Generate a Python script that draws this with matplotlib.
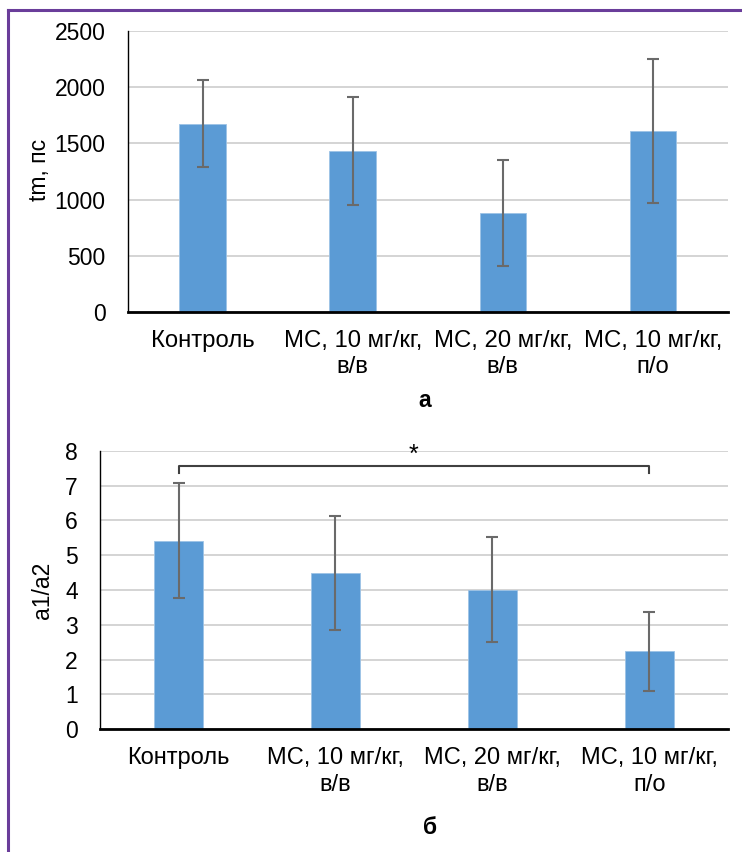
import matplotlib
matplotlib.use("Agg")
import matplotlib.pyplot as plt
from matplotlib.lines import Line2D

# данные
groups = ["Контроль", "МС, 10 мг/кг,\nв/в", "МС, 20 мг/кг,\nв/в", "МС, 10 мг/кг,\nп/о"]
tm_mean = [1675, 1432, 878, 1610]
tm_err = [388, 482, 472, 644]
ratio_mean = [5.42, 4.49, 4.01, 2.24]
ratio_err = [1.66, 1.63, 1.51, 1.13]
sig_pair = (0, 3)
sig_level = 7.57

bar_color = "#5B9BD5"
err_color = "#6A6A6A"
grid_color = "#D4D4D4"
fam = ["Liberation Sans", "DejaVu Sans"]
fs = 16.5

fig = plt.figure(figsize=(7.42, 8.52), dpi=100)
ax1 = fig.add_axes([0.172, 0.6338, 0.809, 0.3298])
ax2 = fig.add_axes([0.1348, 0.1440, 0.8462, 0.3270])


def style(ax, ymax, step, xfs):
    ax.set_ylim(0, ymax)
    ax.set_yticks(range(0, ymax + 1, step))
    ax.set_xlim(-0.5, 3.5)
    ax.grid(axis="y", color=grid_color, linewidth=1.4)
    ax.set_axisbelow(True)
    for s in ("top", "right"):
        ax.spines[s].set_visible(False)
    ax.spines["bottom"].set_linewidth(2.0)
    ax.spines["left"].set_linewidth(1.0)
    ax.tick_params(axis="y", length=0, pad=16, labelsize=fs)
    ax.tick_params(axis="x", length=0, pad=13, labelsize=xfs)
    for lab in ax.get_xticklabels() + ax.get_yticklabels():
        lab.set_family(fam)
        lab.set_linespacing(1.25)


x = range(len(groups))
ax1.bar(x, tm_mean, width=0.31, color=bar_color, edgecolor="#9DC3E6", linewidth=0.6,
        yerr=tm_err, ecolor=err_color, capsize=4, error_kw={"elinewidth": 1.5, "capthick": 1.5})
ax1.set_xticks(list(x))
ax1.set_xticklabels(groups)
style(ax1, 2500, 500, 17.2)
ax1.set_ylabel("tm, пс", fontsize=fs, family=fam)
ax1.yaxis.set_label_coords(-0.127, 0.505)

ax2.bar(x, ratio_mean, width=0.31, color=bar_color, edgecolor="#9DC3E6", linewidth=0.6,
        yerr=ratio_err, ecolor=err_color, capsize=4, error_kw={"elinewidth": 1.5, "capthick": 1.5})
ax2.set_xticks(list(x))
ax2.set_xticklabels(groups)
style(ax2, 8, 1, 17)
ax2.set_ylabel("a1/a2", fontsize=fs, family=fam)
ax2.yaxis.set_label_coords(-0.074, 0.5)

# значимость
a, b = sig_pair
ax2.plot([a, a, b, b], [sig_level - 0.2, sig_level, sig_level, sig_level - 0.2],
         color="#404040", linewidth=1.5)
ax2.text((a + b) / 2, sig_level - 0.02, "*", ha="center", va="bottom", fontsize=18,
         family=fam)

fig.text(0.573, 0.5305, "а", ha="center", va="center", fontsize=fs, fontweight="bold",
         family=fam)
fig.text(0.5795, 0.0293, "б", ha="center", va="center", fontsize=fs, fontweight="bold",
         family=fam)

# рамка
purple = "#6A3D9A"
fig.add_artist(Line2D([0.0108, 1.0], [0.9883, 0.9883], color=purple, linewidth=2.2,
                      transform=fig.transFigure))
fig.add_artist(Line2D([0.0108, 0.0108], [0.0, 0.9883], color=purple, linewidth=2.2,
                      transform=fig.transFigure))

fig.savefig("out.png", dpi=100)
